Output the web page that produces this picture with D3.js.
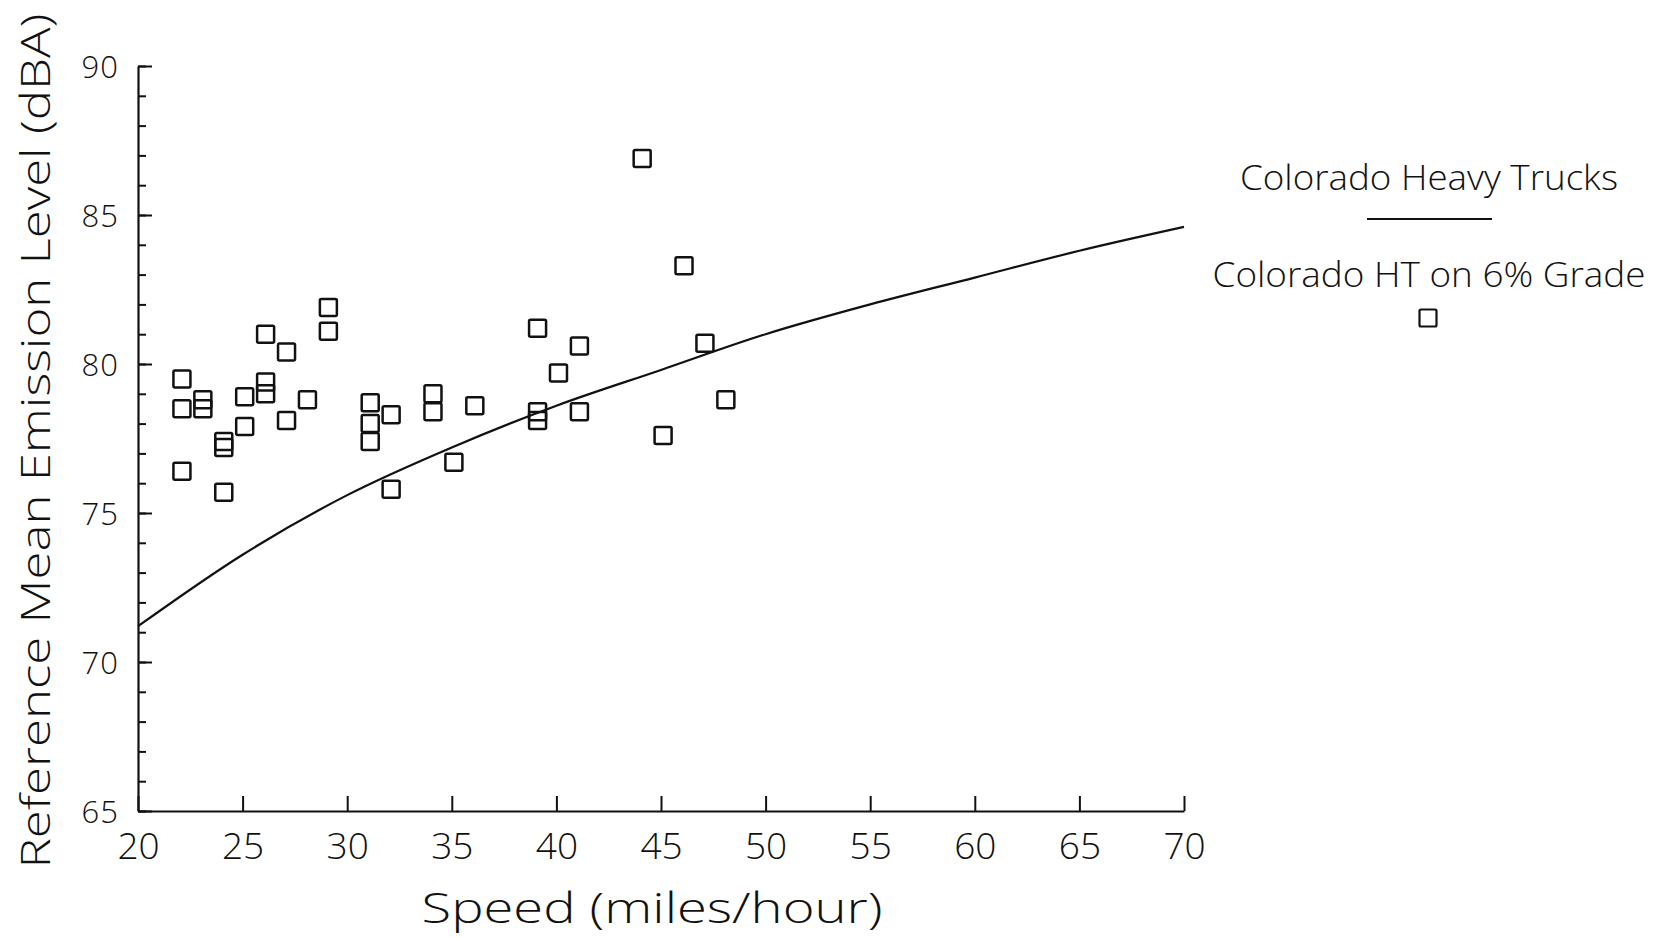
<!DOCTYPE html>
<html>
<head>
<meta charset="utf-8">
<script src="https://cdn.jsdelivr.net/npm/d3@7"></script>
<style>
  html, body { margin: 0; padding: 0; background: #fff; }
  svg { display: block; }
  text { font-family: "Open Sans", "DejaVu Sans", sans-serif; font-weight: 300; fill: #111; }
</style>
</head>
<body>
<svg id="chart" width="1659" height="938"></svg>
<script>
// ---- Data ----
const pointSpeeds = [22.1,22.1,22.1,23.1,23.1,24.1,24.1,24.1,25.1,25.1,26.1,26.1,26.1,27.1,27.1,28.1,29.1,29.1,31.1,31.1,31.1,32.1,32.1,34.1,34.1,35.1,36.1,39.1,39.1,39.1,40.1,41.1,41.1,44.1,45.1,46.1,47.1,48.1];
const pointLevels = [79.5,78.5,76.4,78.8,78.5,77.4,77.2,75.7,78.9,77.9,81.0,79.4,79.0,80.4,78.1,78.8,81.9,81.1,78.7,78.0,77.4,78.3,75.8,79.0,78.4,76.7,78.6,81.2,78.4,78.1,79.7,80.6,78.4,86.9,77.6,83.3,80.7,78.8];
const curveSpeeds = [20,25,30,35,40,45,50,55,60,65,70];
const curveLevels = [71.2,73.6,75.6,77.2,78.6,79.8,81.0,82.0,82.9,83.8,84.6];
const xTicks = [20,25,30,35,40,45,50,55,60,65,70];
const yTicks = [65,70,75,80,85,90];
const yMinorTicks = d3.range(65, 91, 1);
const xTitle = "Speed (miles/hour)";
const yTitle = "Reference Mean Emission Level (dBA)";
const legendLabels = ["Colorado Heavy Trucks", "Colorado HT on 6% Grade"];

// ---- Layout ----
const svg = d3.select("#chart");
const x = d3.scaleLinear().domain([20, 70]).range([138, 1184]);
const y = d3.scaleLinear().domain([65, 90]).range([811, 66]);
const ink = "#111";

// Y axis minor ticks
svg.append("g")
  .attr("transform", `translate(${x(20)},0)`)
  .call(d3.axisLeft(y).tickValues(yMinorTicks).tickSize(-8).tickSizeOuter(0).tickFormat(""))
  .call(g => g.select(".domain").remove())
  .call(g => g.selectAll("line").attr("stroke", ink).attr("stroke-width", 2));

// Y axis major ticks + labels
svg.append("g")
  .attr("transform", `translate(${x(20)},0)`)
  .call(d3.axisLeft(y).tickValues(yTicks).tickSize(-14).tickSizeOuter(0).tickPadding(19))
  .call(g => g.select(".domain").attr("stroke", ink).attr("stroke-width", 2.2))
  .call(g => g.selectAll("line").attr("stroke", ink).attr("stroke-width", 2))
  .call(g => g.selectAll("text")
    .style("font-family", "'Open Sans', sans-serif").style("font-weight", 300)
    .attr("font-size", 31).attr("fill", ink).attr("dy", "0.36em")
    .style("letter-spacing", "1px"));

// X axis
svg.append("g")
  .attr("transform", `translate(0,${y(65)})`)
  .call(d3.axisBottom(x).tickValues(xTicks).tickSize(-15).tickSizeOuter(0).tickPadding(22))
  .call(g => g.select(".domain").attr("stroke", ink).attr("stroke-width", 2.2))
  .call(g => g.selectAll("line").attr("stroke", ink).attr("stroke-width", 2))
  .call(g => g.selectAll("text")
    .style("font-family", "'Open Sans', sans-serif").style("font-weight", 300)
    .attr("font-size", 37).attr("fill", ink).attr("dy", "0.71em"));

// Curve
const line = d3.line()
  .x((d, i) => x(curveSpeeds[i]))
  .y((d, i) => y(curveLevels[i]))
  .curve(d3.curveMonotoneX);
svg.append("path")
  .datum(curveSpeeds)
  .attr("d", line)
  .attr("fill", "none")
  .attr("stroke", ink)
  .attr("stroke-width", 2.2);

// Points (open squares)
const sq = 17;
svg.append("g").selectAll("rect")
  .data(pointSpeeds)
  .join("rect")
  .attr("x", (d, i) => x(d) - sq / 2)
  .attr("y", (d, i) => y(pointLevels[i]) - sq / 2)
  .attr("width", sq)
  .attr("height", sq)
  .attr("rx", 1.5)
  .attr("fill", "none")
  .attr("stroke", ink)
  .attr("stroke-width", 2.5);

// Axis titles
svg.append("text")
  .attr("x", 652).attr("y", 923)
  .attr("text-anchor", "middle")
  .attr("font-size", 42)
  .attr("textLength", 461).attr("lengthAdjust", "spacingAndGlyphs")
  .text(xTitle);

svg.append("text")
  .attr("transform", "translate(50,441) rotate(-90)")
  .attr("text-anchor", "middle")
  .attr("font-size", 41)
  .attr("textLength", 855).attr("lengthAdjust", "spacingAndGlyphs")
  .text(yTitle);

// Legend
const lgx = 1429;
svg.append("text")
  .attr("x", lgx).attr("y", 190)
  .attr("text-anchor", "middle")
  .attr("font-size", 35)
  .attr("textLength", 378).attr("lengthAdjust", "spacingAndGlyphs")
  .text(legendLabels[0]);
svg.append("line")
  .attr("x1", 1367).attr("x2", 1492)
  .attr("y1", 219).attr("y2", 219)
  .attr("stroke", ink).attr("stroke-width", 2);
svg.append("text")
  .attr("x", lgx).attr("y", 287)
  .attr("text-anchor", "middle")
  .attr("font-size", 35)
  .attr("textLength", 433).attr("lengthAdjust", "spacingAndGlyphs")
  .text(legendLabels[1]);
svg.append("rect")
  .attr("x", 1428 - sq / 2).attr("y", 318 - sq / 2)
  .attr("width", sq).attr("height", sq).attr("rx", 1.5)
  .attr("fill", "none").attr("stroke", ink).attr("stroke-width", 2.2);
</script>
</body>
</html>
